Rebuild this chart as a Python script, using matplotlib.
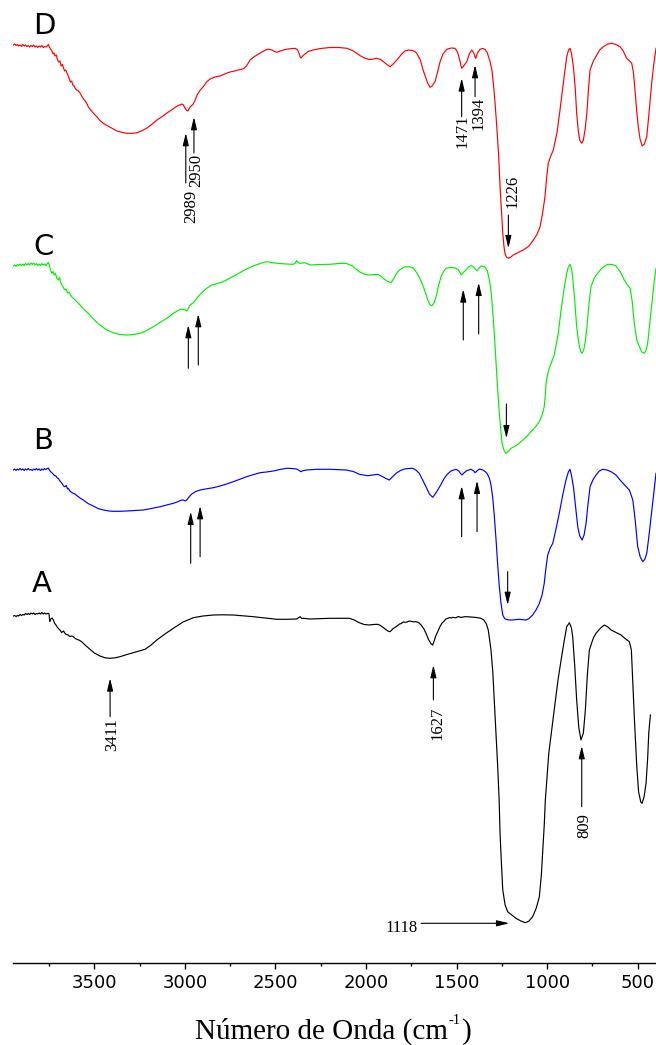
import matplotlib
matplotlib.use("Agg")
import matplotlib.pyplot as plt
from matplotlib.ticker import MultipleLocator

# ---------------- FTIR spectra (wavenumber in cm-1, band depth in a.u.) ----------------
wn_D = [3947, 3940, 3932, 3925, 3918, 3910, 3902, 3895, 3887, 3880, 3872, 3865, 3857, 3850, 3842,
        3835, 3827, 3820, 3812, 3805, 3797, 3790, 3782, 3775, 3767, 3760, 3754, 3748, 3742, 3735,
        3728, 3722, 3717, 3710, 3703, 3697, 3690, 3683, 3676, 3670, 3664, 3658, 3651, 3644, 3638,
        3632, 3625, 3619, 3612, 3605, 3598, 3590, 3579, 3570, 3560, 3550, 3540, 3533, 3520, 3506,
        3485, 3469, 3450, 3430, 3400, 3375, 3345, 3319, 3290, 3264, 3235, 3209, 3180, 3154, 3125,
        3099, 3070, 3043, 3030, 3016, 3008, 3000, 2990, 2983, 2975, 2966, 2955, 2945, 2933, 2915,
        2900, 2880, 2861, 2835, 2806, 2780, 2751, 2725, 2707, 2690, 2675, 2660, 2640, 2620, 2602,
        2575, 2547, 2530, 2519, 2500, 2491, 2475, 2458, 2430, 2392, 2380, 2370, 2363, 2359, 2350,
        2337, 2320, 2293, 2250, 2199, 2150, 2106, 2075, 2051, 2030, 2005, 1980, 1960, 1941, 1920,
        1904, 1885, 1867, 1850, 1830, 1800, 1785, 1766, 1745, 1730, 1720, 1700, 1685, 1660, 1647,
        1635, 1619, 1605, 1591, 1575, 1554, 1530, 1509, 1498, 1490, 1480, 1472, 1465, 1455, 1444,
        1430, 1416, 1405, 1398, 1394, 1385, 1371, 1355, 1343, 1330, 1315, 1305, 1297, 1288, 1278,
        1268, 1260, 1252, 1245, 1238, 1233, 1225, 1214, 1200, 1187, 1160, 1132, 1100, 1076, 1055,
        1039, 1025, 1012, 1003, 994, 980, 966, 945, 929, 910, 892, 882, 874, 866, 855,
        845, 837, 828, 820, 809, 800, 790, 781, 772, 763, 745, 726, 710, 690, 665,
        643, 620, 598, 580, 561, 545, 533, 524, 515, 506, 497, 487, 475, 463, 450,
        437, 423, 410, 399]
depth_D = [0, -1, 0.5, -0.5, 1, 0, 1.5, -0.5, 1, 0, 1.5, 0.5, 2, 0.5, 1.5,
           0, 2, 1, 2.5, 1, 2, 0.5, 2.5, 1.5, 2, 1, -0.5, 2, 4, 5.5,
           9, 8, 11, 10, 15, 17, 16, 21, 19.5, 23, 26, 25, 28, 31, 34,
           37, 36, 40, 41, 43.5, 45, 45.5, 48, 51, 54, 56, 59, 62, 65, 68,
           72, 75.5, 78.5, 80.5, 83.5, 86, 87.5, 88.3, 88.3, 87.7, 85.5, 83, 79, 75, 71.5,
           68, 64.5, 61, 60, 59, 60, 63, 65.5, 66, 63, 61, 59.3, 56, 50, 45,
           42, 37, 34, 32, 31, 29, 27, 26, 25, 24.5, 23.5, 21, 15, 12, 10,
           7, 4.3, 4.5, 5, 7, 7.3, 6, 5, 4, 3.3, 4.5, 8.3, 12, 13, 11,
           9, 6.5, 5, 3.5, 2.5, 2.5, 3.3, 5.5, 8.3, 11, 13.3, 14.5, 14, 13.3, 14.5,
           16.7, 19.5, 21.7, 19, 15, 8.5, 6, 5, 5.5, 6.5, 8.3, 15, 25, 38, 42.3,
           41, 36.7, 27, 16.7, 9, 4.3, 3, 3.3, 6, 10, 17, 23.3, 22, 19.5, 16.7,
           9, 5, 8, 12, 13.3, 8, 4.3, 3.5, 4.3, 8, 16.7, 25, 38.3, 57, 81.7,
           110, 141.7, 167, 188, 202, 208.3, 212, 213.3, 212, 210, 207.5, 205, 201, 195, 189,
           181.7, 168, 151.7, 133, 118.3, 111, 105, 87, 65, 37, 11.7, 5, 3.3, 8, 21.7,
           43, 68.3, 86, 95, 98.3, 95, 84, 68.3, 45, 25, 16, 10, 5, 1.7, -1,
           -1.7, -0.5, 1.7, 6, 13.3, 16, 18.3, 27, 45, 65, 81.7, 94, 101, 99, 91.7,
           67, 38.3, 17, 3.3]

wn_C = [3947, 3940, 3932, 3925, 3918, 3910, 3902, 3895, 3887, 3880, 3872, 3865, 3857, 3850, 3842,
        3835, 3827, 3820, 3812, 3805, 3797, 3790, 3782, 3775, 3767, 3760, 3754, 3748, 3742, 3735,
        3728, 3722, 3715, 3708, 3699, 3692, 3685, 3676, 3668, 3662, 3655, 3648, 3640, 3632, 3625,
        3615, 3605, 3595, 3579, 3560, 3533, 3500, 3469, 3435, 3395, 3360, 3321, 3285, 3248, 3210,
        3174, 3137, 3100, 3065, 3027, 3009, 2998, 2990, 2981, 2972, 2953, 2935, 2916, 2885, 2852,
        2820, 2788, 2740, 2696, 2660, 2622, 2585, 2548, 2520, 2493, 2440, 2401, 2390, 2383, 2375,
        2364, 2350, 2337, 2320, 2309, 2260, 2199, 2150, 2110, 2075, 2037, 2010, 1991, 1960, 1935,
        1915, 1899, 1880, 1862, 1845, 1830, 1816, 1790, 1761, 1740, 1724, 1705, 1687, 1672, 1659,
        1648, 1636, 1624, 1613, 1600, 1586, 1570, 1558, 1531, 1515, 1503, 1490, 1480, 1475, 1465,
        1448, 1435, 1420, 1405, 1395, 1387, 1375, 1365, 1350, 1341, 1330, 1319, 1310, 1301, 1292,
        1282, 1273, 1264, 1256, 1249, 1238, 1227, 1213, 1199, 1170, 1144, 1115, 1089, 1065, 1043,
        1028, 1016, 1010, 1006, 997, 988, 975, 961, 940, 923, 905, 892, 883, 874, 866,
        859, 848, 837, 824, 814, 807, 798, 790, 780, 768, 758, 740, 721, 695, 665,
        640, 620, 598, 574, 555, 542, 530, 519, 505, 491, 477, 463, 452, 445, 430,
        417, 408, 399]
depth_C = [1, 0, 1.5, -0.5, 0.5, -1, 0.5, -1, 0.5, -1.5, 0, -1.5, 0, -2, -0.5,
           -2, 0, -1.5, 0.5, -1, 0.5, -1.5, 0, -1, 0.5, -1.5, -2.5, 0, 5, 8.3,
           6.5, 10, 8.5, 13, 15, 12.5, 18, 21, 23.5, 25, 24, 28, 27, 30, 31.7,
           33.5, 35, 37, 40, 44, 48.3, 55, 60, 64.5, 67.7, 69.5, 70, 69.5, 68.3, 65.5,
           61.7, 57.5, 53.3, 48.5, 44.3, 44.3, 45, 46, 43.5, 40, 37.7, 33.5, 29.3, 24, 20,
           18.5, 16.7, 12, 7.7, 4, 1, -1.5, -3.3, -2.5, -1.7, -1, -0.7, -2, -4.3, -2.5,
           -1.7, -2, -2.3, -1, 0, -0.5, -0.7, -1.5, -1.7, 1, 6.7, 9, 10, 9.7, 9.3,
           11.5, 14.3, 16.5, 17.7, 13, 8, 5, 2, 1.7, 3, 6.7, 12.5, 20, 27.5, 35,
           39.5, 41, 37.5, 31.7, 21, 11.7, 6, 3.3, 2.3, 2.7, 3.3, 5, 8, 10, 8,
           5, 2, 0.7, 2, 4.5, 5.7, 3, 1, 1.5, 2.3, 6, 15, 26, 45, 68,
           98.3, 125, 148.3, 165, 178.3, 185.5, 188.3, 186, 183.3, 180.5, 176.7, 172, 166.7, 162, 156.7,
           150, 141.7, 130, 118.3, 109, 103.3, 97, 90, 70, 45, 22, 8.3, 2, -0.7, 3,
           11.7, 35, 61.7, 80, 87, 88.3, 85, 77, 61.7, 37, 21.7, 13, 8.3, 2.5, -0.7,
           -0.5, 1, 6.5, 15, 20.5, 23.3, 37, 58.3, 75, 81.7, 87, 88.3, 84.5, 78.3, 53,
           31.7, 15, 3.3]

wn_B = [3947, 3940, 3932, 3925, 3918, 3910, 3902, 3895, 3887, 3880, 3872, 3865, 3857, 3850, 3842,
        3835, 3827, 3820, 3812, 3805, 3797, 3790, 3782, 3775, 3767, 3760, 3754, 3748, 3742, 3735,
        3728, 3720, 3712, 3705, 3699, 3692, 3685, 3678, 3670, 3662, 3655, 3648, 3644, 3635, 3625,
        3615, 3607, 3590, 3575, 3561, 3535, 3506, 3480, 3450, 3420, 3395, 3360, 3321, 3275, 3230,
        3185, 3137, 3100, 3064, 3040, 3018, 3008, 3000, 2993, 2987, 2975, 2962, 2940, 2916, 2880,
        2843, 2806, 2770, 2733, 2700, 2659, 2620, 2585, 2550, 2512, 2475, 2438, 2410, 2383, 2370,
        2359, 2345, 2327, 2272, 2199, 2110, 2070, 2037, 1991, 1935, 1908, 1890, 1871, 1855, 1834,
        1810, 1788, 1765, 1742, 1725, 1706, 1690, 1669, 1650, 1632, 1618, 1604, 1585, 1568, 1550,
        1531, 1503, 1488, 1478, 1470, 1460, 1444, 1420, 1405, 1398, 1388, 1374, 1355, 1341, 1330,
        1319, 1310, 1301, 1292, 1282, 1273, 1264, 1255, 1245, 1235, 1227, 1210, 1190, 1170, 1154,
        1135, 1117, 1100, 1080, 1060, 1043, 1028, 1016, 1008, 997, 983, 969, 950, 933, 915,
        896, 883, 874, 866, 855, 843, 831, 820, 807, 796, 785, 775, 763, 745, 730,
        712, 693, 670, 647, 620, 601, 575, 546, 527, 514, 500, 486, 472, 460, 450,
        438, 426, 412, 399]
depth_B = [0, -1, 0.5, -1, 0, -1.5, 0, -1, 0.5, -1, 0, -1.5, 0, -0.5, 0.5,
           -1, 0, -1.5, 0, -1, 0.5, -1, 0, -1.5, -0.5, -1.5, -2, 0, 1.5, 2.7,
           4, 5.5, 6, 8, 8.3, 10.5, 12, 13.5, 16, 16.7, 15.5, 19, 18.3, 21, 22.5,
           23.5, 24, 26.5, 28.5, 30, 33.5, 36, 38.5, 40, 41, 41.3, 41.3, 41, 40.5, 40,
           38.5, 36.7, 35, 33.3, 31.8, 30, 30, 31, 30.5, 29.3, 26.5, 24, 21.5, 20, 18.8,
           17.7, 16, 14, 11.7, 9.5, 6.7, 4.5, 2.7, 2, 1, -0.5, -1.7, -1.5, -1, 0.5,
           1.7, 0.5, 0, -0.7, -0.7, 0, 1.5, 4.3, 5.7, 4.3, 6.7, 8.5, 10, 7, 3.3,
           0.5, -1, -1.5, -1.7, 0, 3.3, 9, 16.7, 24, 27.3, 24, 20, 14, 8.3, 4,
           1, -0.7, 1, 3.5, 5, 3, 0.7, -0.7, 1, 2.7, 1, -1, 0, 1.7, 4,
           8.3, 15, 26.7, 45, 70, 95, 116.7, 133, 145, 148.5, 149.3, 150, 150, 149.5, 149.3,
           149.7, 150, 148.5, 145, 139.5, 133.3, 125, 113.3, 100, 85, 78, 73.3, 58, 43.3, 26,
           10, 2, -0.7, 5, 16.7, 37, 56.7, 66, 70, 65, 53.3, 35, 16.7, 9, 5,
           1, -0.7, 0, 1.7, 5, 9.3, 14.5, 20, 30, 50, 76.7, 87, 91.7, 89, 83.3,
           66, 46.7, 24, 3.3]

wn_A = [3947, 3940, 3932, 3925, 3918, 3910, 3902, 3895, 3887, 3880, 3872, 3865, 3857, 3850, 3842,
        3835, 3827, 3820, 3812, 3805, 3797, 3790, 3782, 3775, 3767, 3760, 3754, 3750, 3746, 3740,
        3733, 3726, 3720, 3712, 3705, 3699, 3690, 3680, 3670, 3662, 3655, 3645, 3635, 3625, 3616,
        3605, 3595, 3585, 3570, 3560, 3545, 3524, 3500, 3469, 3440, 3413, 3385, 3358, 3320, 3285,
        3250, 3220, 3190, 3155, 3110, 3064, 3010, 2953, 2900, 2843, 2790, 2733, 2680, 2622, 2560,
        2493, 2440, 2383, 2370, 2364, 2355, 2346, 2309, 2250, 2199, 2092, 2065, 2037, 2010, 1982,
        1960, 1935, 1920, 1899, 1880, 1867, 1850, 1834, 1815, 1805, 1795, 1779, 1760, 1740, 1724,
        1710, 1696, 1680, 1669, 1655, 1640, 1632, 1622, 1615, 1604, 1590, 1580, 1568, 1560, 1550,
        1540, 1530, 1521, 1505, 1490, 1475, 1460, 1448, 1420, 1390, 1365, 1350, 1337, 1325, 1310,
        1300, 1292, 1283, 1273, 1265, 1260, 1252, 1245, 1232, 1218, 1195, 1172, 1145, 1120, 1100,
        1080, 1060, 1043, 1032, 1024, 1016, 1010, 1000, 991, 975, 961, 940, 923, 905, 892,
        877, 866, 859, 848, 837, 825, 813, 800, 789, 778, 767, 745, 730, 705, 684,
        665, 647, 620, 592, 570, 546, 535, 527, 518, 505, 495, 483, 476, 465, 454,
        445, 439, 430]
depth_A = [0, -0.5, 0.5, -0.5, 0, -1.5, -0.5, -1.5, -1, -2.5, -1.5, -2.5, -1.5, -3, -2,
           -3, -1.5, -2.5, -2, -3, -2, -3.5, -2, -3, -2, -2.5, -2.7, -2, 5.7, 3,
           2, 4, 7, 9, 11, 12.3, 14, 16.5, 15, 17.3, 18.5, 19, 20.5, 20, 20.7,
           22.5, 23.5, 24, 25.7, 27.5, 30, 33.3, 37, 40, 41.8, 42.3, 41.8, 40.7, 38.5, 36.7,
           35, 33.3, 29.5, 24, 18, 12.3, 6, 1.7, 0, -1, -1.2, -1, -0.2, 0.7, 2,
           3.3, 3.3, 3, 1.5, 0.7, 2.5, 2.3, 3, 2.6, 2.3, 2.3, 4, 6.7, 8.5, 9,
           8.5, 8.3, 9.5, 12.3, 15, 15.7, 12.5, 10.7, 8, 7.5, 6, 6.3, 5, 5.8, 5.7,
           6.5, 9, 13, 17.3, 23.5, 28, 29, 24, 20, 15.7, 10, 7, 5, 3, 2.5,
           1.5, 2, 1.3, 1.8, 0.5, 1.5, 0.8, 0.7, 1, 1.5, 2.3, 4, 7.3, 14, 34,
           56, 84, 114, 150.7, 184, 217.3, 249, 274, 289, 295.7, 299, 302.3, 305, 306.7, 305,
           300.7, 292, 280.7, 259, 234, 209, 184, 160, 137.3, 114, 94, 64, 44, 24, 10.7,
           6.7, 12, 20.7, 49, 84, 112, 124, 117, 94, 59, 34, 22, 17.3, 12, 9,
           11, 14, 16.5, 19, 22.5, 25.7, 34, 67.3, 104, 150.7, 176, 186, 187.3, 181, 167.3,
           142, 117.3, 99]

samples = ['D', 'C', 'B', 'A']
colors = ['#ff0000', '#00f000', '#0000ff', '#000000']
offsets = [918, 698, 493, 347]
wavenumbers = [wn_D, wn_C, wn_B, wn_A]
depths = [depth_D, depth_C, depth_B, depth_A]
label_wn = [3778, 3783, 3783, 3789]
label_y = [937, 716, 522, 379]

# Peak markers: (x_tail, y_tail, x_tip, y_tip)
arrows = [
    (2995, 780, 2995, 830), (2950, 810, 2950, 846), (1472, 846.3, 1472, 884.7),
    (1398, 866.3, 1398, 898), (1214, 748, 1214, 714.7),
    (2981, 594.7, 2981, 638), (2926, 598, 2926, 649), (1463, 623, 1463, 673.7),
    (1378, 629, 1378, 680.3), (1225, 559, 1225, 524.7),
    (2968, 399.7, 2968, 451.3), (2916, 406.3, 2916, 457), (1472, 426.3, 1472, 477),
    (1387, 431.3, 1387, 482.3), (1218, 391.3, 1218, 358),
    (3413, 246.3, 3413, 284.7), (1628, 263, 1628, 298), (809, 156.3, 809, 217),
    (1696, 39.7, 1209, 39.7),
]
# Peak labels: (text, x, y, rotation)
peak_labels = [
    ('2989', 2966, 757, 90), ('2950', 2938, 793, 90), ('1471', 1467, 832, 90),
    ('1394', 1380, 850, 90), ('1226', 1191, 772, 90), ('3411', 3402, 228, 90),
    ('1627', 1604, 240, 90), ('809', 795, 137, 90),
]

W, H = 656, 1045
fig = plt.figure(figsize=(W / 100, H / 100), dpi=100)
ax = fig.add_axes([13 / W, 82 / H, 643 / W, 963 / H])

for name, col, off, wn, dep, lx, ly in zip(samples, colors, offsets, wavenumbers, depths,
                                            label_wn, label_y):
    ax.plot(wn, [off - d for d in dep], color=col, lw=0.85, solid_joinstyle='round')
    ax.text(lx, ly, name, fontsize=21, ha='center', va='center', family='DejaVu Sans')

for x0, y0, x1, y1 in arrows:
    ax.annotate('', xy=(x1, y1), xytext=(x0, y0),
                arrowprops=dict(arrowstyle='-|>,head_length=0.75,head_width=0.18',
                                color='black', lw=0.8, mutation_scale=10,
                                shrinkA=0, shrinkB=0))

for txt, x, y, rot in peak_labels:
    ax.text(x, y, txt, rotation=rot, ha='center', va='center', fontsize=12,
            family='Liberation Serif')
ax.text(1715, 35.3, '1118', ha='right', va='center', fontsize=12, family='Liberation Serif')

ax.set_xlim(3949, 399)
ax.set_ylim(0, 963)
for side in ('left', 'right', 'top'):
    ax.spines[side].set_visible(False)
ax.spines['bottom'].set_linewidth(1.0)
ax.set_yticks([])
ax.xaxis.set_major_locator(MultipleLocator(500))
ax.xaxis.set_minor_locator(MultipleLocator(250))
ax.tick_params(axis='x', which='major', direction='out', length=4, width=1.0,
               labelsize=13, pad=4)
ax.tick_params(axis='x', which='minor', direction='out', length=2.2, width=1.0)
ax.patch.set_alpha(0)

# Axis title with a raised "-1" exponent, built from three pieces sharing one baseline
serif = 'Liberation Serif'
base = 6.5 / H
t_main = fig.text(195 / W, base, 'Número de Onda (cm', family=serif, fontsize=21,
                  ha='left', va='baseline')
fig.canvas.draw()
renderer = fig.canvas.get_renderer()
x_end = t_main.get_window_extent(renderer).x1
t_exp = fig.text((x_end + 1) / W, base + 15 / H, '-1', family=serif, fontsize=10.5,
                 ha='left', va='baseline')
fig.canvas.draw()
x_end2 = t_exp.get_window_extent(renderer).x1
fig.text((x_end2 + 1) / W, base, ')', family=serif, fontsize=21,
         ha='left', va='baseline')

fig.savefig('out.png', dpi=100)
